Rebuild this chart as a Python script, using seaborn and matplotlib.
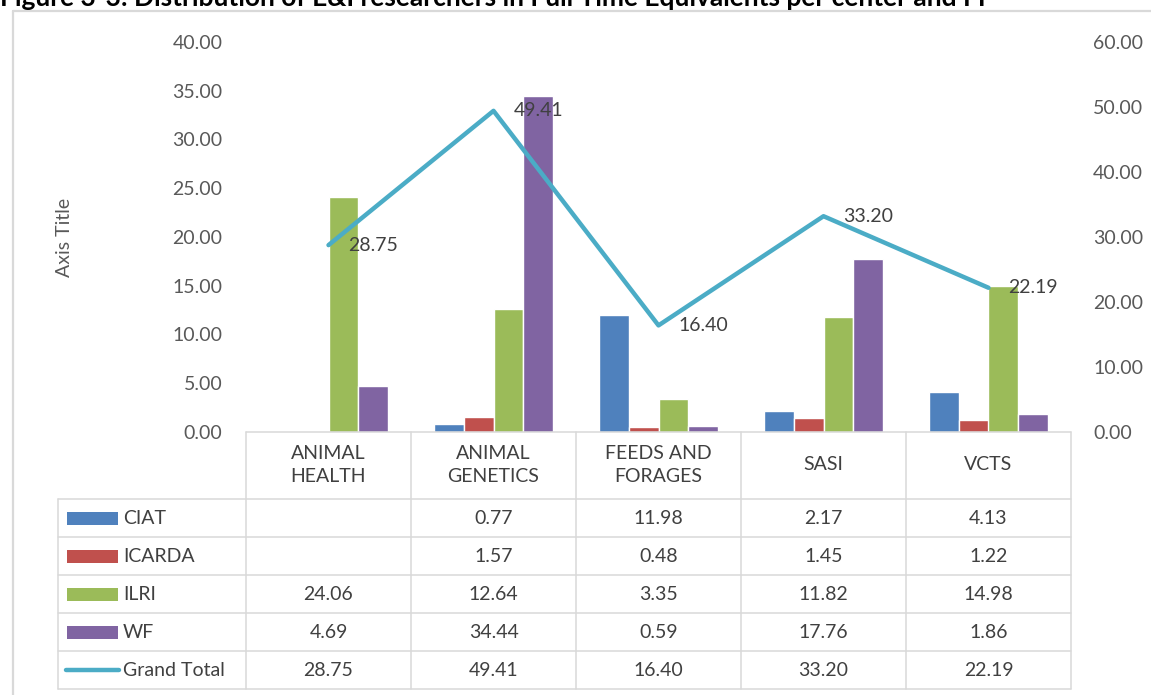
import numpy as np
import pandas as pd
import matplotlib
matplotlib.use("Agg")
import matplotlib.pyplot as plt
import seaborn as sns
from matplotlib.lines import Line2D
from matplotlib.patches import Rectangle

# data
categories = ["ANIMAL\nHEALTH", "ANIMAL\nGENETICS", "FEEDS AND\nFORAGES", "SASI", "VCTS"]
centers = ["CIAT", "ICARDA", "ILRI", "WF"]
ciat = [np.nan, 0.77, 11.98, 2.17, 4.13]
icarda = [np.nan, 1.57, 0.48, 1.45, 1.22]
ilri = [24.06, 12.64, 3.35, 11.82, 14.98]
wf = [4.69, 34.44, 0.59, 17.76, 1.86]
grand_total = [28.75, 49.41, 16.40, 33.20, 22.19]
left_ticks = np.arange(0, 41, 5)
right_ticks = np.arange(0, 61, 10)

colors = ["#4F81BD", "#C0504D", "#9BBB59", "#8064A2"]
line_color = "#4BACC6"
grid_col = "#D9D9D9"
tick_col = "#595959"
text_col = "#404040"

series = dict(zip(centers, [ciat, icarda, ilri, wf]))
df = pd.DataFrame([(c, cat, v) for c in centers for cat, v in zip(categories, series[c])],
                  columns=["center", "category", "value"])

sns.set_style("white")
plt.rcParams['font.family'] = ['Lato', 'DejaVu Sans']

W, H = 1151, 695
fig = plt.figure(figsize=(W / 100, H / 100), dpi=100)

def fx(x):
    return x / W

def fy(y):
    return 1 - y / H

ax_l, ax_r, ax_t, ax_b = 246, 1071, 42, 432
ax = fig.add_axes([fx(ax_l), fy(ax_b), (ax_r - ax_l) / W, (ax_b - ax_t) / H])

sns.barplot(data=df, x="category", y="value", hue="center", order=categories,
            hue_order=centers, palette=colors, width=0.727, saturation=1,
            errorbar=None, legend=False, ax=ax)
ax.set_xlim(-0.5, len(categories) - 0.5)
ax.set_ylim(0, 40)
ax.set_yticks(left_ticks)
ax.set_yticklabels([f"{v:.2f}" for v in left_ticks])
ax.tick_params(axis="y", length=0, pad=17, labelsize=14, labelcolor=tick_col)
ax.tick_params(axis="x", length=0, labelbottom=False)
ax.set_xlabel("")
ax.set_ylabel("")
for s in ax.spines.values():
    s.set_visible(False)

ax2 = ax.twinx()
xs = np.arange(len(categories))
sns.lineplot(x=xs, y=grand_total, ax=ax2, color=line_color, lw=3.2)
ax2.set_ylim(0, 60)
ax2.set_yticks(right_ticks)
ax2.set_yticklabels([f"{v:.2f}" for v in right_ticks])
ax2.tick_params(axis="y", length=0, pad=16, labelsize=14, labelcolor=tick_col)
for s in ax2.spines.values():
    s.set_visible(False)
for x, v in zip(xs, grand_total):
    ax2.annotate(f"{v:.2f}", (x, v), xytext=(20, 0), textcoords="offset pixels",
                 ha="left", va="center", fontsize=14, color=text_col)

fig.text(fx(65), fy(237), "Axis Title", rotation=90, ha="center", va="center",
         fontsize=14, color=tick_col)

# title (cropped at the top in the reference)
fig.text(fx(0), fy(6), "Figure 3-3: Distribution of E&I researchers in Full Time Equivalents per center and FP",
         ha="left", va="baseline", fontsize=19, fontweight="bold", color="black")

# outer chart border
fig.add_artist(Line2D([fx(13), fx(13)], [fy(11), fy(H)], color=grid_col, lw=1.6))
fig.add_artist(Line2D([fx(13), fx(W)], [fy(11), fy(11)], color=grid_col, lw=1.6))

# data table
col_edges = [ax_l + k * (ax_r - ax_l) / len(categories) for k in range(len(categories) + 1)]
row_edges = [499, 537, 575, 613, 651, 689]
tbl_left = 58
lw = 1.1
fig.add_artist(Line2D([fx(ax_l), fx(ax_r)], [fy(ax_b), fy(ax_b)], color=grid_col, lw=lw))
for y in row_edges:
    fig.add_artist(Line2D([fx(tbl_left), fx(ax_r)], [fy(y), fy(y)], color=grid_col, lw=lw))
fig.add_artist(Line2D([fx(tbl_left), fx(tbl_left)], [fy(row_edges[0]), fy(row_edges[-1])],
                      color=grid_col, lw=lw))
for x in col_edges:
    fig.add_artist(Line2D([fx(x), fx(x)], [fy(ax_b), fy(row_edges[-1])], color=grid_col, lw=lw))

for i, cat in enumerate(categories):
    cx = (col_edges[i] + col_edges[i + 1]) / 2
    fig.text(fx(cx), fy(465), cat, ha="center", va="center", fontsize=14,
             color=text_col, linespacing=1.4, multialignment="center")

row_names = centers + ["Grand Total"]
row_values = [ciat, icarda, ilri, wf, grand_total]
for r, (name, vals) in enumerate(zip(row_names, row_values)):
    cy = (row_edges[r] + row_edges[r + 1]) / 2
    if r < len(centers):
        fig.add_artist(Rectangle((fx(67), fy(cy + 6.5)), (118 - 67) / W, 13 / H,
                                 facecolor=colors[r], edgecolor="none"))
    else:
        fig.add_artist(Line2D([fx(66), fx(119)], [fy(cy), fy(cy)], color=line_color,
                              lw=3.2, solid_capstyle="round"))
    fig.text(fx(123), fy(cy), name, ha="left", va="center", fontsize=14, color=text_col)
    for i, v in enumerate(vals):
        if np.isnan(v):
            continue
        cx = (col_edges[i] + col_edges[i + 1]) / 2
        fig.text(fx(cx), fy(cy), f"{v:.2f}", ha="center", va="center", fontsize=14,
                 color=text_col)

fig.savefig("out.png", dpi=100)
